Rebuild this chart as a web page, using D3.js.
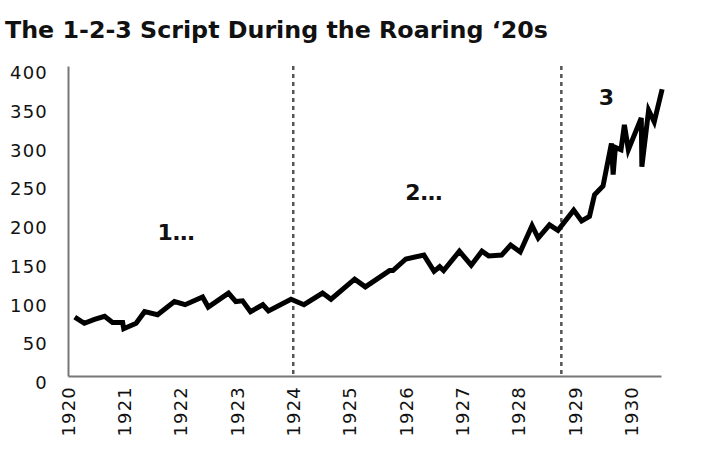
<!DOCTYPE html>
<html>
<head>
<meta charset="utf-8">
<script src="https://cdn.jsdelivr.net/npm/d3@7.9.0/dist/d3.min.js"></script>
<style>
  body { margin: 0; background: #fff; }
  svg { display: block; font-family: "DejaVu Sans", sans-serif; }
</style>
</head>
<body>
<svg id="chart" width="716" height="455"></svg>
<script>
// index level (decimal year, value)
const years = [
  1920.12, 1920.29, 1920.47, 1920.65, 1920.79, 1920.97, 1920.99, 1921.21, 1921.36, 1921.59,
  1921.89, 1922.08, 1922.39, 1922.49, 1922.85, 1922.98, 1923.10, 1923.24, 1923.46, 1923.56,
  1923.96, 1924.19, 1924.52, 1924.67, 1925.09, 1925.28, 1925.71, 1925.77, 1926.00, 1926.32,
  1926.50, 1926.60, 1926.67, 1926.95, 1927.16, 1927.35, 1927.47, 1927.70, 1927.86, 1928.03,
  1928.24, 1928.35, 1928.55, 1928.70, 1928.98, 1929.12, 1929.26, 1929.35, 1929.50, 1929.65,
  1929.68, 1929.72, 1929.82, 1929.88, 1929.95, 1930.18, 1930.19, 1930.31, 1930.41, 1930.55
];
const values = [
  76, 68, 73, 77, 69, 69, 61, 68, 83, 79,
  96, 92, 102, 89, 107, 96, 97, 83, 92, 84,
  99, 92, 107, 99, 125, 115, 136, 136, 151, 156,
  135, 141, 136, 161, 143, 161, 155, 156, 169, 160,
  194, 178, 195, 188, 214, 200, 206, 234, 245, 300,
  260, 295, 292, 324, 292, 333, 270, 343, 328, 370
];
const xTicks = [1920, 1921, 1922, 1923, 1924, 1925, 1926, 1927, 1928, 1929, 1930];
const yTicks = [0, 50, 100, 150, 200, 250, 300, 350, 400];
const dividers = [1924, 1928.76];
const phaseLabels = ["1…", "2…", "3"];
const phaseYears = [1921.92, 1926.32, 1929.56];
const phaseValues = [186, 237, 359];

const svg = d3.select('#chart');

const x = d3.scaleLinear().domain([1920, 1930.53]).range([68, 661]);
const y = d3.scaleLinear().domain([0, 400]).range([376, 66]);

// title
svg.append('text')
  .attr('x', 5).attr('y', 38)
  .attr('font-size', 23).attr('font-weight', 700)
  .attr('fill', '#111')
  .attr('textLength', 543).attr('lengthAdjust', 'spacingAndGlyphs')
  .text('The 1-2-3 Script During the Roaring ‘20s');

// axes (lines only, no tick marks)
const xAxis = svg.append('g')
  .attr('transform', `translate(0,${y(0)})`)
  .call(d3.axisBottom(x).tickValues(xTicks).tickSize(0).tickFormat(d3.format('d')));
xAxis.select('.domain').attr('stroke', '#777').attr('stroke-width', 2);
xAxis.selectAll('text')
  .attr('transform', 'rotate(-90)')
  .attr('x', -10).attr('y', 0).attr('dy', '0.35em')
  .attr('text-anchor', 'end')
  .attr('font-family', '"DejaVu Sans", sans-serif')
  .attr('font-size', 18).attr('fill', '#111')
  .attr('letter-spacing', 1.2);

const yAxis = svg.append('g')
  .attr('transform', `translate(${x(1920)},0)`)
  .call(d3.axisLeft(y).tickValues(yTicks).tickSize(0));
yAxis.select('.domain').attr('stroke', '#777').attr('stroke-width', 2);
yAxis.selectAll('text')
  .attr('x', -20).attr('dy', '0.7em')
  .attr('font-family', '"DejaVu Sans", sans-serif')
  .attr('font-size', 18).attr('fill', '#111')
  .attr('letter-spacing', 1.2);

// phase dividers
svg.selectAll('line.divider')
  .data(dividers)
  .enter().append('line')
  .attr('class', 'divider')
  .attr('x1', d => x(d)).attr('x2', d => x(d))
  .attr('y1', y(400)).attr('y2', y(0))
  .attr('stroke', '#555').attr('stroke-width', 2.5)
  .attr('stroke-dasharray', '4,4');

// series
const points = years.map((yr, i) => [yr, values[i]]);
svg.append('path')
  .datum(points)
  .attr('fill', 'none')
  .attr('stroke', '#000')
  .attr('stroke-width', 5)
  .attr('stroke-linejoin', 'miter')
  .attr('stroke-miterlimit', 4)
  .attr('d', d3.line().x(d => x(d[0])).y(d => y(d[1])));

// phase labels
svg.selectAll('text.phase')
  .data(phaseLabels)
  .enter().append('text')
  .attr('class', 'phase')
  .attr('x', (d, i) => x(phaseYears[i]))
  .attr('y', (d, i) => y(phaseValues[i]))
  .attr('dy', '0.35em')
  .attr('text-anchor', 'middle')
  .attr('font-size', 22).attr('font-weight', 700)
  .attr('fill', '#111')
  .text(d => d);
</script>
</body>
</html>
